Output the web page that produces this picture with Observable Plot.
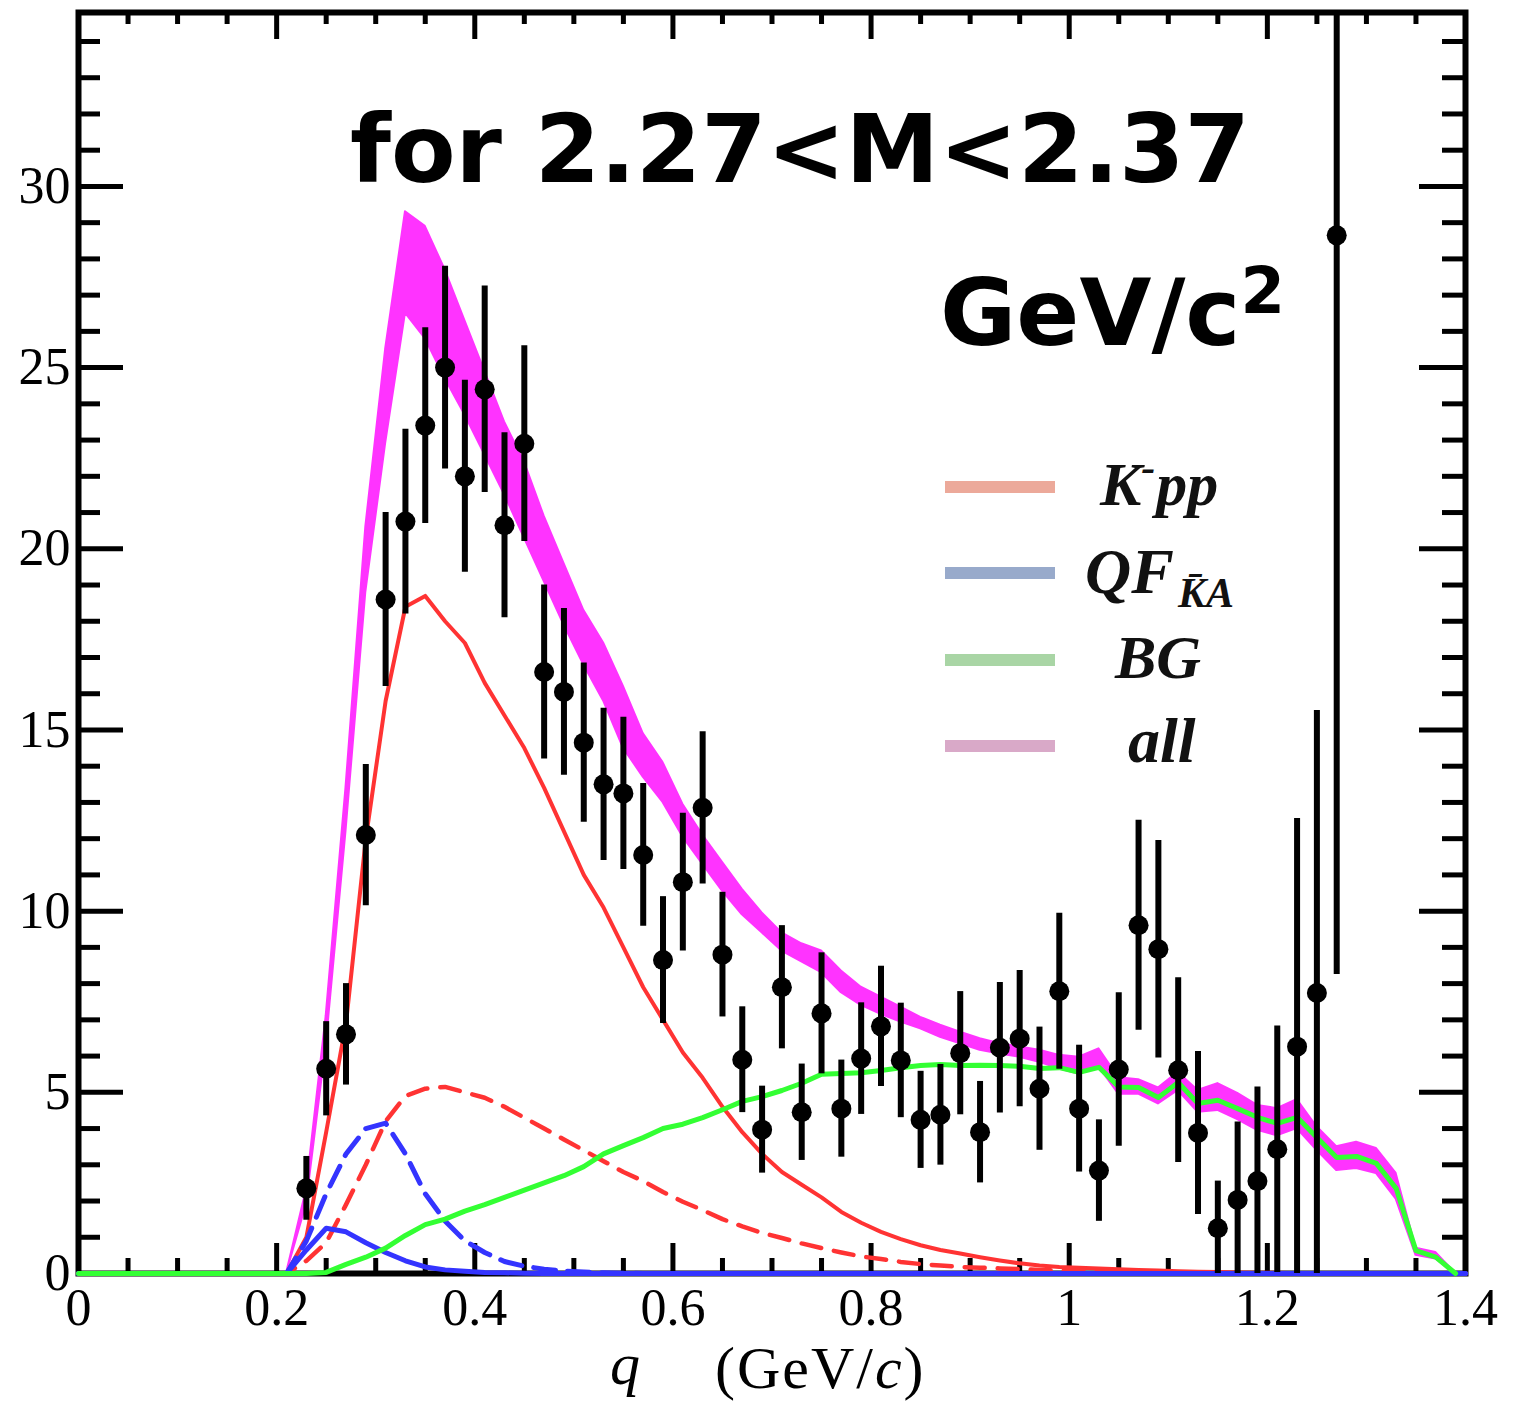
<!DOCTYPE html>
<html><head><meta charset="utf-8">
<script src="https://cdn.jsdelivr.net/npm/d3@7"></script>
<script src="https://cdn.jsdelivr.net/npm/@observablehq/plot@0.6"></script>
<style>html,body{margin:0;padding:0;background:#fff;}</style>
</head><body><div id="chart"></div>
<script>
// ---- data points (bin centre q, counts, symmetric error) ----
const qPts = [0.23,0.25,0.27,0.29,0.31,0.33,0.35,0.37,0.39,0.41,
  0.43,0.45,0.47,0.49,0.51,0.53,0.55,0.57,0.59,0.61,
  0.63,0.65,0.67,0.69,0.71,0.73,0.75,0.77,0.79,0.81,
  0.83,0.85,0.87,0.89,0.91,0.93,0.95,0.97,0.99,1.01,
  1.03,1.05,1.07,1.09,1.11,1.13,1.15,1.17,1.19,1.21,
  1.23,1.25,1.27];
const counts = [2.35,5.65,6.6,12.1,18.6,20.75,23.4,25.0,22.0,24.4,
  20.65,22.9,16.6,16.05,14.65,13.5,13.25,11.55,8.65,10.8,
  12.85,8.8,5.9,3.97,7.9,4.45,7.18,4.55,5.93,6.82,
  5.88,4.24,4.38,6.08,3.9,6.23,6.48,5.1,7.79,4.55,
  2.84,5.63,9.61,8.95,5.61,3.88,1.25,2.03,2.55,3.43,
  6.26,7.74,28.65];
const errs = [0.88,1.3,1.4,1.95,2.4,2.55,2.7,2.8,2.65,2.85,
  2.55,2.7,2.4,2.3,2.2,2.1,2.1,1.97,1.75,1.9,
  2.1,1.72,1.46,1.2,1.7,1.33,1.67,1.34,1.54,1.66,
  1.58,1.34,1.39,1.7,1.4,1.8,1.88,1.7,2.15,1.75,
  1.4,2.12,2.9,3.0,2.55,2.25,1.3,2.15,2.6,3.4,
  6.3,7.8,20.4];

// ---- model curves ----
const qCurve = [0,
  0.21,0.23,0.25,0.27,0.29,0.31,0.33,0.35,0.37,0.39,
  0.41,0.43,0.45,0.47,0.49,0.51,0.53,0.55,0.57,0.59,
  0.61,0.63,0.65,0.67,0.69,0.71,0.73,0.75,0.77,0.79,
  0.81,0.83,0.85,0.87,0.89,0.91,0.93,0.95,0.97,0.99,
  1.01,1.03,1.05,1.07,1.09,1.11,1.13,1.15,1.17,1.19,
  1.21,1.23,1.25,1.27,1.29,1.31,1.33,1.35,1.37,1.39,
  1.4];
const kppSolid = [0,
  0,1.0,3.9,6.9,12.0,15.8,18.4,18.7,18.0,17.4,
  16.3,15.4,14.5,13.4,12.2,11.0,10.1,9.0,7.9,7.0,
  6.1,5.4,4.6,3.9,3.3,2.8,2.45,2.1,1.7,1.4,
  1.15,0.95,0.78,0.65,0.55,0.45,0.36,0.28,0.22,0.18,
  0.16,0.14,0.12,0.1,0.08,0.06,0.05,0.04,0.03,0.02,
  0.02,0.01,0.01,0,0,0,0,0,0,0,
  0];
const kppDashed = [0,
  0,0.35,0.85,1.9,3.0,4.2,4.9,5.1,5.15,5.0,
  4.85,4.6,4.3,4.0,3.7,3.4,3.1,2.8,2.55,2.25,
  1.98,1.75,1.5,1.3,1.12,0.98,0.83,0.7,0.58,0.47,
  0.4,0.32,0.26,0.22,0.18,0.16,0.14,0.12,0.1,0.08,
  0.06,0.05,0.04,0.03,0.02,0.01,0,0,0,0,
  0,0,0,0,0,0,0,0,0,0,
  0];
const qfDashed = [0,
  0,0.9,2.2,3.3,4.0,4.15,3.3,2.2,1.45,0.9,
  0.58,0.33,0.2,0.12,0.07,0.04,0.02,0.01,0,0,
  0,0,0,0,0,0,0,0,0,0,
  0,0,0,0,0,0,0,0,0,0,
  0,0,0,0,0,0,0,0,0,0,
  0,0,0,0,0,0,0,0,0,0,
  0];
const qfSolid = [0,
  0,0.65,1.25,1.15,0.85,0.58,0.35,0.18,0.1,0.06,
  0.03,0.02,0.01,0,0,0,0,0,0,0,
  0,0,0,0,0,0,0,0,0,0,
  0,0,0,0,0,0,0,0,0,0,
  0,0,0,0,0,0,0,0,0,0,
  0,0,0,0,0,0,0,0,0,0,
  0];
const bg = [0,
  0,0,0.03,0.25,0.45,0.7,1.05,1.35,1.5,1.72,
  1.9,2.1,2.3,2.5,2.7,2.95,3.3,3.53,3.75,4.0,
  4.12,4.3,4.52,4.75,4.88,5.05,5.25,5.5,5.52,5.54,
  5.6,5.68,5.74,5.77,5.74,5.75,5.74,5.72,5.66,5.68,
  5.55,5.69,5.15,5.13,4.86,5.27,4.69,4.78,4.55,4.31,
  4.14,4.31,3.75,3.2,3.23,3.04,2.35,0.63,0.45,0,
  0];
const allLow = [0,
  0,1.9,6.3,12.2,18.8,22.9,26.5,25.8,24.7,23.7,
  22.6,21.5,20.3,19.1,17.9,16.8,15.8,14.5,13.7,13.0,
  12.05,11.3,10.55,9.9,9.4,8.9,8.6,8.3,7.75,7.4,
  7.15,6.94,6.75,6.52,6.34,6.16,6.06,5.97,5.83,5.65,
  5.5,5.7,4.95,4.95,4.68,5.05,4.45,4.5,4.25,3.95,
  3.8,4.0,3.4,2.84,2.9,2.76,2.05,0.5,0.4,0,
  0];
const allHigh = [0,
  0,2.3,7.1,13.4,20.6,25.5,29.3,28.9,27.7,26.3,
  24.9,23.5,22.4,20.9,19.6,18.3,17.4,16.2,14.9,14.1,
  12.95,12.1,11.35,10.6,9.95,9.4,9.1,8.9,8.35,7.9,
  7.63,7.35,7.07,6.85,6.66,6.48,6.34,6.25,6.16,6.02,
  5.97,6.2,5.4,5.35,5.12,5.55,5.05,5.24,4.97,4.64,
  4.55,4.8,4.05,3.5,3.62,3.45,2.76,0.7,0.58,0,
  0];

// ---- ticks ----
const xMajor = [0,0.2,0.4,0.6,0.8,1,1.2,1.4];
const xTickLabels = ["0","0.2","0.4","0.6","0.8","1","1.2","1.4"];
const xMinor = [0.05,0.1,0.15,0.25,0.3,0.35,0.45,0.5,0.55,0.65,0.7,0.75,0.85,0.9,0.95,1.05,1.1,1.15,1.25,1.3,1.35];
const yMajor = [0,5,10,15,20,25,30];
const yTickLabels = ["0","5","10","15","20","25","30"];
const yMinor = [1,2,3,4,6,7,8,9,11,12,13,14,16,17,18,19,21,22,23,24,26,27,28,29,31,32,33,34];

// ---- legend ----
const legendColors = ["#eca99a","#98aacb","#a9d5a5","#d9a9c8"];

// ---- tables ----
const pts = qPts.map((q,i)=>({q, n: counts[i], lo: counts[i]-errs[i], hi: counts[i]+errs[i]}));
const curves = qCurve.map((q,i)=>({q, kpp: kppSolid[i], kppd: kppDashed[i], qfd: qfDashed[i], qf: qfSolid[i], bg: bg[i], lo: allLow[i], hi: allHigh[i]}));

const RED = "#ff3333", BLUE = "#3434ff", GREEN = "#33ff33", MAG = "#ff33ff";

const plot = Plot.plot({
  width: 1522, height: 1403,
  marginLeft: 78, marginRight: 57, marginTop: 12, marginBottom: 130,
  style: {fontFamily: "'Liberation Serif', 'Times New Roman', serif", fontSize: "52px", background: "white", color: "black"},
  x: {domain: [0, 1.4], axis: null},
  y: {domain: [0, 34.8], axis: null},
  marks: [
    Plot.frame({stroke: "black", strokeWidth: 6}),
    // ticks (inward)
    Plot.axisY(yMajor, {anchor: "left", tickSize: -45, strokeWidth: 5, fill: "none", label: null}),
    Plot.axisY(yMinor, {anchor: "left", tickSize: -22, strokeWidth: 5, fill: "none", label: null}),
    Plot.axisY(yMajor, {anchor: "right", tickSize: -47, strokeWidth: 5, fill: "none", label: null}),
    Plot.axisY(yMinor, {anchor: "right", tickSize: -24, strokeWidth: 5, fill: "none", label: null}),
    Plot.axisX(xMajor, {anchor: "bottom", tickSize: -30, strokeWidth: 5, fill: "none", label: null}),
    Plot.axisX(xMinor, {anchor: "bottom", tickSize: -15, strokeWidth: 5, fill: "none", label: null}),
    Plot.axisX(xMajor, {anchor: "top", tickSize: -26, strokeWidth: 5, fill: "none", label: null}),
    Plot.axisX(xMinor, {anchor: "top", tickSize: -11, strokeWidth: 5, fill: "none", label: null}),
    // curves
    Plot.areaY(curves, {filter: d => d.q >= 0.21 && d.q <= 1.39, x: "q", y1: "lo", y2: "hi", fill: MAG, stroke: MAG, strokeWidth: 2}),
    Plot.line(curves, {x: "q", y: "kpp", stroke: RED, strokeWidth: 4}),
    Plot.line(curves, {x: "q", y: "kppd", stroke: RED, strokeWidth: 4.5, strokeDasharray: "20,13"}),
    Plot.line(curves, {x: "q", y: "qfd", stroke: BLUE, strokeWidth: 5, strokeDasharray: "22,12"}),
    Plot.line(curves, {x: "q", y: "qf", stroke: BLUE, strokeWidth: 5}),
    Plot.line(curves, {filter: d => d.q <= 1.39, x: "q", y: "bg", stroke: GREEN, strokeWidth: 5}),
    // data
    Plot.ruleX(pts, {x: "q", y1: "lo", y2: "hi", stroke: "black", strokeWidth: 6, clip: true}),
    Plot.dot(pts, {x: "q", y: "n", r: 10, fill: "black", stroke: null}),
    // tick labels
    Plot.axisY(yMajor, {anchor: "left", tickSize: 0, tickPadding: 8, stroke: "none", label: null, fontSize: 52,
      tickFormat: d => yTickLabels[yMajor.indexOf(d)]}),
    Plot.axisX(xMajor, {anchor: "bottom", tickSize: 0, tickPadding: 15, stroke: "none", label: null, fontSize: 52,
      tickFormat: d => xTickLabels[xMajor.indexOf(d)]})
  ]
});
document.getElementById("chart").appendChild(plot);

const svg = d3.select(plot);
const overlay = svg.append("g").attr("text-anchor", "start");
// title text inside plot
overlay.append("text").attr("x", 350).attr("y", 182)
  .attr("font-family", "'DejaVu Sans', sans-serif").attr("font-weight", "bold").attr("font-size", 94)
  .attr("textLength", 900).attr("lengthAdjust", "spacingAndGlyphs").attr("fill", "black")
  .text("for 2.27<M<2.37");
const t2 = overlay.append("text").attr("x", 940).attr("y", 345)
  .attr("font-family", "'DejaVu Sans', sans-serif").attr("font-weight", "bold").attr("font-size", 93).attr("fill", "black");
t2.append("tspan").text("GeV/c");
t2.append("tspan").attr("font-size", 64).attr("dy", -32).text("2");

// legend
const legY = [487, 573, 660, 746];
legendColors.forEach((c, i) => {
  overlay.append("rect").attr("x", 945).attr("y", legY[i] - 6).attr("width", 110).attr("height", 12).attr("fill", c);
});
const lf = "'Liberation Serif', 'Times New Roman', serif";
const l1 = overlay.append("text").attr("x", 1100).attr("y", 505).attr("font-family", lf).attr("font-weight", "bold").attr("font-style", "italic").attr("font-size", 62).attr("fill", "#111");
l1.append("tspan").text("K");
l1.append("tspan").attr("font-size", 42).attr("dy", -24).text("-");
l1.append("tspan").attr("dy", 24).attr("dx", 1).text("pp");
const l2 = overlay.append("text").attr("x", 1085).attr("y", 593).attr("font-family", lf).attr("font-weight", "bold").attr("font-style", "italic").attr("font-size", 64).attr("fill", "#111");
l2.append("tspan").text("QF");
l2.append("tspan").attr("font-size", 42).attr("dy", 14).attr("dx", 4).text("K\u0304A");
overlay.append("text").attr("x", 1115).attr("y", 678).attr("font-family", lf).attr("font-weight", "bold").attr("font-style", "italic").attr("font-size", 62).attr("fill", "#111").text("BG");
overlay.append("text").attr("x", 1128).attr("y", 762).attr("font-family", lf).attr("font-weight", "bold").attr("font-style", "italic").attr("font-size", 64).attr("fill", "#111").text("all");

// x-axis label
overlay.append("text").attr("x", 610).attr("y", 1384).attr("font-family", lf).attr("font-style", "italic").attr("font-size", 60).attr("fill", "black").text("q");
const xl = overlay.append("text").attr("x", 715).attr("y", 1388).attr("font-family", lf).attr("font-size", 60)
  .attr("letter-spacing", 2).attr("fill", "black");
xl.append("tspan").text("(GeV/");
xl.append("tspan").attr("font-style", "italic").text("c");
xl.append("tspan").text(")");
</script>
</body></html>
